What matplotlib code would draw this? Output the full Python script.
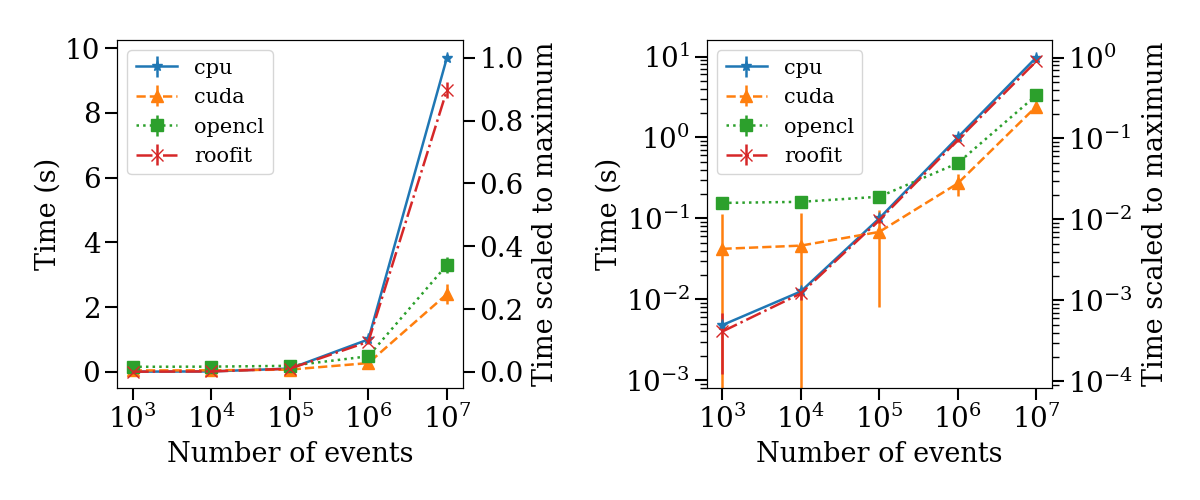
import numpy as np
import matplotlib.pyplot as plt
from matplotlib.ticker import NullLocator

plt.rcParams['font.family'] = ['DejaVu Serif']

events = [1e3, 1e4, 1e5, 1e6, 1e7]

cpu = [0.0048, 0.0125, 0.10, 1.0, 9.7]
cpu_err = [0.0004, 0.001, 0.008, 0.05, 0.1]
cuda = [0.042, 0.046, 0.068, 0.27, 2.4]
cuda_err = [0.07, 0.07, 0.06, 0.08, 0.3]
opencl = [0.155, 0.16, 0.185, 0.48, 3.3]
opencl_err = [0.01, 0.01, 0.01, 0.03, 0.25]
roofit = [0.004, 0.0118, 0.095, 0.93, 8.7]
roofit_err = [0.0028, 0.002, 0.008, 0.06, 0.25]

names = ['cpu', 'cuda', 'opencl', 'roofit']
series = [cpu, cuda, opencl, roofit]
errs = [cpu_err, cuda_err, opencl_err, roofit_err]
markers = ['*', '^', 's', 'x']
styles = ['-', '--', ':', '-.']
colors = ['#1f77b4', '#ff7f0e', '#2ca02c', '#d62728']

vmax = max(cpu)

fig = plt.figure(figsize=(12, 5), dpi=100)
ax1 = fig.add_axes([0.0975, 0.224, 0.288, 0.696])
ax2 = fig.add_axes([0.589, 0.224, 0.2875, 0.696])


def draw(ax, logy):
	for n, s, e, m, ls, c in zip(names, series, errs, markers, styles, colors):
		ax.errorbar(events, s, yerr=e, marker=m, ls=ls, color=c, label=n,
			markersize=8, lw=1.8, elinewidth=1.8)
	ax.set_xscale('log')
	ax.xaxis.set_minor_locator(NullLocator())
	ax.set_xticks(events)
	ax.set_xlabel('Number of events', fontsize=19.5, labelpad=5)
	ax.set_ylabel('Time (s)', fontsize=19.5, labelpad=2)
	ax.tick_params(which='major', labelsize=20, length=8.5, width=1.5)
	ax.tick_params(which='minor', length=5, width=1)
	ax.legend(loc='upper left', fontsize=15, handlelength=2.0, labelspacing=0.5)
	tw = ax.twinx()
	if logy:
		ax.set_yscale('log')
		ax.set_ylim(8e-4, 16)
		tw.set_yscale('log')
		tw.set_ylim(8e-4 / vmax, 16 / vmax)
	else:
		ax.set_ylim(-0.5, 10.25)
		tw.set_ylim(-0.5 / vmax, 10.25 / vmax)
	tw.set_ylabel('Time scaled to maximum', fontsize=19.5, labelpad=6)
	tw.tick_params(which='major', labelsize=20, length=8.5, width=1.5)
	tw.tick_params(which='minor', length=5, width=1)


draw(ax1, False)
draw(ax2, True)

plt.savefig('out.png')
